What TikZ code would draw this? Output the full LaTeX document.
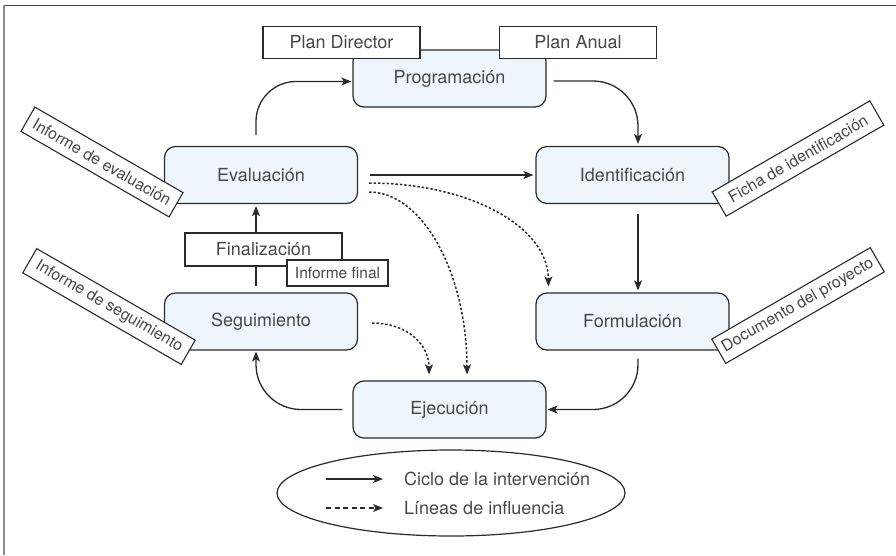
\documentclass[tikz,border=0pt]{standalone}
\usepackage{fontspec}
\setmainfont{TeX Gyre Heros}
\usetikzlibrary{arrows.meta,calc,shapes.geometric}
\definecolor{ink}{HTML}{474747}
\definecolor{edge}{HTML}{2A2A2A}
\definecolor{boxfill}{HTML}{EEF6FB}
\definecolor{frametop}{HTML}{404040}
\definecolor{frameleft}{HTML}{8A8A8A}
\begin{document}
\begin{tikzpicture}[x=1pt,y=-1pt,
  phase/.style={draw=edge, line width=1.2pt, fill=boxfill, rounded corners=11pt,
    minimum width=193pt, minimum height=57pt, inner sep=0pt, text=ink,
    font=\fontsize{18}{21}\selectfont},
  docbox/.style={draw=edge, line width=1.1pt, fill=white, minimum width=157pt,
    minimum height=32pt, inner sep=0pt, text=ink, font=\fontsize{18}{21}\selectfont},
  report/.style={draw=edge, line width=1.1pt, fill=white, minimum height=28pt,
    inner sep=0pt, text=ink, font=\fontsize{16}{19}\selectfont},
  tip/.style={-{Stealth[length=10pt,width=8pt,inset=2.5pt]}},
  cyc/.style={draw=edge, line width=1.3pt, tip},
  plain/.style={draw=edge, line width=1.3pt},
  infl/.style={draw=edge, line width=1.5pt, dash pattern=on 2.4pt off 2pt, tip},
  legtext/.style={anchor=west, inner sep=0pt, text=ink, font=\fontsize{18}{21}\selectfont},
]
\useasboundingbox (0,0) rectangle (896,555);

% frame edges
\draw[line width=1.8pt, frametop] (3,5.5) -- (896,5.5);
\draw[line width=2pt, frameleft] (3.5,5) -- (3.5,555);

% phases of the cycle
\node[phase] (prog)  at (449.5,78.5)  {Programación};
\node[docbox] (pdir) at (341.5,42.5) {Plan Director};
\node[docbox] (panu) at (578,42.5)   {Plan Anual};
\node[phase] (eval)  at (261,175)     {Evaluación};
\node[phase] (ident) at (632.5,175)   {Identificación};
\node[phase] (form)  at (632.5,321.5) {Formulación};
\node[phase] (seg)   at (261,321.5)   {Seguimiento};
\node[phase] (ejec)  at (449.5,409.5) {Ejecución};
\node[docbox, minimum height=33pt] (fin) at (263.5,249.5) {Finalización};
\node[docbox, minimum width=101pt, minimum height=26pt,
  font=\fontsize{15.5}{18}\selectfont] (ifin) at (337.5,273) {Informe final};

% cycle connectors
\coordinate (sx) at ([xshift=-5pt]seg.north);
\draw[cyc, rounded corners=40pt] ([xshift=-5pt,yshift=11pt]eval.north)
  |- ([xshift=-1pt,yshift=-3pt]prog.west);
\draw[cyc, rounded corners=45pt] ([xshift=7pt,yshift=-2.5pt]prog.east)
  -| ([xshift=5.5pt,yshift=2pt]ident.north);
\draw[cyc] ([xshift=12pt]eval.east) -- ([xshift=-2pt]ident.west);
\draw[cyc] ([xshift=5.5pt,yshift=-10pt]ident.south) -- ([xshift=5.5pt,yshift=2pt]form.north);
\draw[cyc, rounded corners=45pt] ([xshift=5.5pt,yshift=-8pt]form.south)
  |- ([xshift=1pt]ejec.east);
\draw[cyc, rounded corners=45pt] ([xshift=-10pt]ejec.west)
  -| ([xshift=-5pt,yshift=-1pt]seg.south);
\draw[plain] ([yshift=6pt]sx) -- (sx |- fin.south);
\draw[cyc] (sx |- fin.north) -- ([xshift=-5pt,yshift=-2pt]eval.south);

% lines of influence
\draw[infl] ([xshift=11pt,yshift=-8pt]eval.east)
  .. controls +(100,0) and +(0,-60) .. ([xshift=13pt,yshift=6pt]form.north west);
\draw[infl] ([xshift=11pt,yshift=-17pt]eval.east)
  .. controls +(54,0) and +(0,-100) .. ([xshift=17.5pt,yshift=6pt]ejec.north);
\draw[infl] ([xshift=14pt,yshift=-1.5pt]seg.east)
  .. controls +(35,0) and +(0,-30) .. ([xshift=-20.5pt,yshift=6pt]ejec.north);

% reports attached to the phases
\node[report, rotate=-30, minimum width=171pt] (reval) at (102,162) {Informe de evaluación};
\node[report, rotate=-30, minimum width=183pt] (rseg)  at (109,306.5) {Informe de seguimiento};
\node[report, rotate=30, minimum width=182pt] (rficha) at (798,158.5) {Ficha de identificación};
\node[report, rotate=30, minimum width=183pt] (rdoc)   at (798,305.5) {Documento del proyecto};

% legend
\node[ellipse, draw=edge, line width=1.2pt, minimum width=348pt, minimum height=86pt,
  inner sep=0pt] (legend) at (451,493) {};
\node[legtext] (t1) at (404,479) {Ciclo de la intervención};
\node[legtext] (t2) at (404,508) {Líneas de influencia};
\coordinate (s1) at (326,479);
\coordinate (s2) at (326,508);
\draw[cyc] (s1) -- ([xshift=-21pt]t1.west);
\draw[draw=edge, line width=1.3pt, dash pattern=on 5pt off 3.5pt, tip] (s2) -- ([xshift=-21pt]t2.west);
\end{tikzpicture}
\end{document}
